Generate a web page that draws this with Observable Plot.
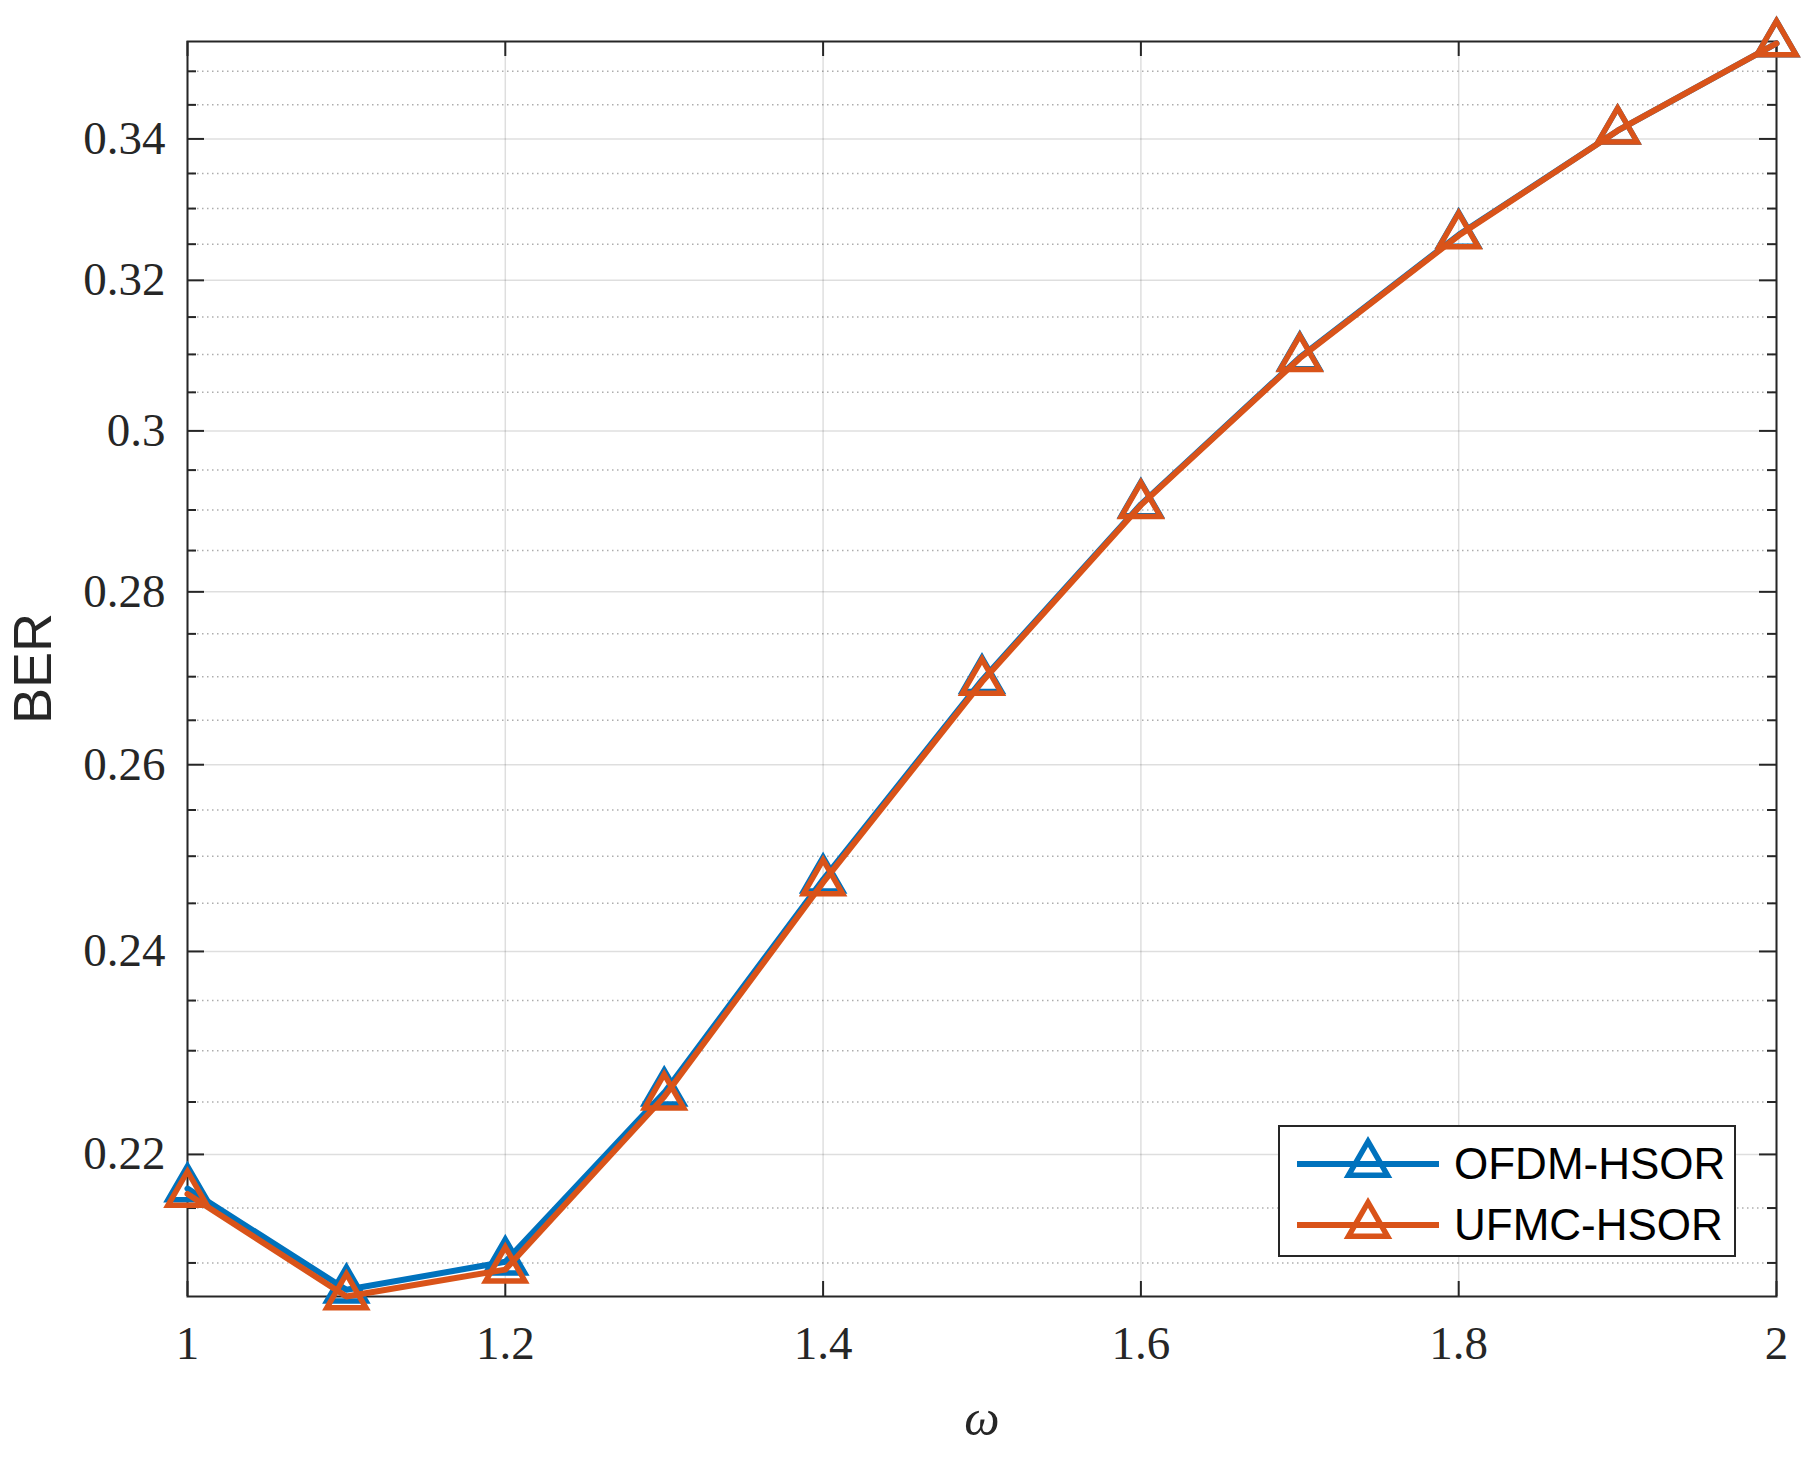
<!DOCTYPE html>
<html><head><meta charset="utf-8">
<script src="https://cdn.jsdelivr.net/npm/d3@7"></script>
<script src="https://cdn.jsdelivr.net/npm/@observablehq/plot@0.6"></script>
<style>
html,body{margin:0;padding:0;background:#fff;overflow:hidden}
#wrap{position:relative;width:1809px;height:1457px}
#legend{position:absolute;left:1278px;top:1125px;width:458px;height:132px;border:2px solid #262626;background:#fff;box-sizing:border-box}
.lrow{position:absolute;left:0;height:60px;display:flex;align-items:center}
.lrow span{font-family:"Liberation Sans",Arial,sans-serif;font-size:44px;color:#000;white-space:nowrap}
</style>
</head><body><div id="wrap"></div>
<script>
// ---- data ----
const omega = [1, 1.1, 1.2, 1.3, 1.4, 1.5, 1.6, 1.7, 1.8, 1.9, 2];
const ofdmHSOR = [0.2168, 0.2076, 0.2101, 0.2259, 0.2475, 0.2696, 0.2907, 0.3096, 0.3263, 0.3412, 0.3542];
const ufmcHSOR = [0.2163, 0.2070, 0.2094, 0.2255, 0.2472, 0.2694, 0.2906, 0.3095, 0.3262, 0.3412, 0.3542];
const seriesNames = ["OFDM-HSOR", "UFMC-HSOR"];
const seriesColors = ["#0072BD", "#D95319"];
const xTicks = [1, 1.2, 1.4, 1.6, 1.8, 2];
const yTicks = [0.22, 0.24, 0.26, 0.28, 0.3, 0.32, 0.34];
const yMinorTicks = [0.21, 0.215, 0.225, 0.23, 0.235, 0.245, 0.25, 0.255, 0.265, 0.27, 0.275,
  0.285, 0.29, 0.295, 0.305, 0.31, 0.315, 0.325, 0.33, 0.335, 0.345, 0.35];
const yDomain = [0.207, 0.3545];
const xDomain = [1, 2];

// ---- layout ----
const W = 1809, H = 1457, mL = 187, mT = 41, mR = 33, mB = 161;
const plotW = W - mL - mR, plotH = H - mT - mB;
const axisColor = "#262626";

const series = [ofdmHSOR, ufmcHSOR].map((vals, s) =>
  omega.map((x, i) => ({x, y: vals[i], s})));

const seriesMarks = series.flatMap((data, s) => [
  Plot.line(data, {x: "x", y: "y", stroke: seriesColors[s], strokeWidth: 6, strokeLinejoin: "round"}),
  Plot.dot(data, {x: "x", y: "y", symbol: "triangle", r: 14.5, stroke: seriesColors[s], strokeWidth: 5.5, fill: "none"})
]);

const chart = Plot.plot({
  width: W, height: H,
  marginLeft: mL, marginTop: mT, marginRight: mR, marginBottom: mB,
  style: {fontFamily: "'Liberation Serif', 'DejaVu Serif', serif", fontSize: "47px", color: axisColor, background: "white"},
  x: {domain: xDomain},
  y: {type: "log", domain: yDomain},
  marks: [
    Plot.gridX(xTicks, {stroke: "#000", strokeOpacity: 0.13, strokeWidth: 1.5}),
    Plot.gridY(yMinorTicks, {stroke: "#000", strokeOpacity: 0.32, strokeWidth: 1.5, strokeDasharray: "1.5,3.5"}),
    Plot.gridY(yTicks, {stroke: "#000", strokeOpacity: 0.13, strokeWidth: 1.5}),
    // inward ticks
    Plot.tickY(yTicks, {y: d => d, insetRight: plotW - 17, stroke: axisColor, strokeWidth: 2}),
    Plot.tickY(yMinorTicks, {y: d => d, insetRight: plotW - 9, stroke: axisColor, strokeWidth: 2}),
    Plot.tickY(yTicks, {y: d => d, insetLeft: plotW - 17, stroke: axisColor, strokeWidth: 2}),
    Plot.tickY(yMinorTicks, {y: d => d, insetLeft: plotW - 9, stroke: axisColor, strokeWidth: 2}),
    Plot.tickX(xTicks, {x: d => d, insetTop: plotH - 15, stroke: axisColor, strokeWidth: 2}),
    Plot.tickX(xTicks, {x: d => d, insetBottom: plotH - 15, stroke: axisColor, strokeWidth: 2}),
    Plot.frame({stroke: axisColor, strokeWidth: 2}),
    Plot.axisY(yTicks, {tickSize: 0, tickPadding: 22, tickFormat: d3.format(""), label: null}),
    Plot.axisX(xTicks, {tickSize: 0, tickPadding: 29, tickFormat: d3.format(""), label: null}),
    ...seriesMarks,
    Plot.text(["BER"], {frameAnchor: "left", dx: -154, dy: 55, rotate: -90, fontFamily: "'Liberation Sans', Arial, sans-serif", fontSize: 54, fill: axisColor}),
    Plot.text(["ω"], {frameAnchor: "bottom", dy: 138, fontStyle: "italic", fontSize: 50, fill: axisColor})
  ]
});
const wrap = document.getElementById("wrap");
wrap.appendChild(chart);

// ---- legend (overlay) ----
const legend = document.createElement("div");
legend.id = "legend";
const rowCenters = [37, 98];
const triPath = d3.symbol(d3.symbolTriangle, Math.PI * 14.5 * 14.5)();
seriesNames.forEach((name, i) => {
  const row = document.createElement("div");
  row.className = "lrow";
  row.style.top = (rowCenters[i] - 30) + "px";
  const svg = d3.create("svg").attr("width", 172).attr("height", 60);
  svg.append("line").attr("x1", 17).attr("x2", 159).attr("y1", 30).attr("y2", 30)
    .attr("stroke", seriesColors[i]).attr("stroke-width", 6);
  svg.append("path").attr("d", triPath).attr("transform", "translate(88,30)")
    .attr("fill", "none").attr("stroke", seriesColors[i]).attr("stroke-width", 5.5);
  row.appendChild(svg.node());
  const t = document.createElement("span");
  t.textContent = name;
  t.style.marginLeft = "2px";
  row.appendChild(t);
  legend.appendChild(row);
});
wrap.appendChild(legend);
</script>
</body></html>
